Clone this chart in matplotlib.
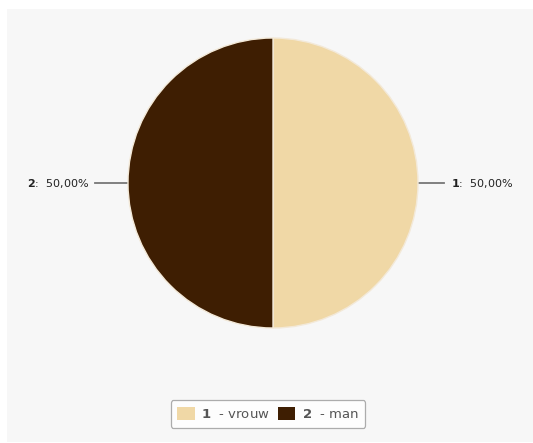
import matplotlib.pyplot as plt
from matplotlib.patches import Rectangle, Patch

plt.rcParams["mathtext.fontset"] = "dejavusans"

# data
codes = ["1", "2"]
names = ["vrouw", "man"]
shares = [50.0, 50.0]
colors = ["#f0d8a6", "#3e1e02"]

W, H = 533, 443
CX, CY, R = 273, 443 - 183, 145

fig = plt.figure(figsize=(W / 100, H / 100), dpi=100)
fig.patch.set_facecolor("white")
ax = fig.add_axes([0, 0, 1, 1])

# grey panel
ax.add_patch(Rectangle((7, 1), W - 7, H - 10, facecolor="#f7f7f7", edgecolor="none", zorder=0))

wedges, _ = ax.pie(shares, colors=colors, startangle=90, counterclock=False,
                   center=(CX, CY), radius=R, frame=True,
                   wedgeprops=dict(edgecolor="#f3e9d8", linewidth=1.0))
for w in wedges:
    w.set_zorder(3)
ax.set_xlim(0, W)
ax.set_ylim(0, H)
ax.set_aspect("equal")
ax.axis("off")

# labels with leader lines
ax.plot([CX + R, CX + R + 26], [CY, CY], color="#777777", lw=1.3, zorder=2)
ax.plot([CX - R - 33, CX - R], [CY, CY], color="#777777", lw=1.3, zorder=2)
lab_style = dict(fontsize=8, va="center", color="#222222", zorder=4)
ax.text(CX + R + 33, CY, f"$\\mathbf{{{codes[0]}}}$:  {shares[0]:.2f}%".replace(".", ","),
        ha="left", **lab_style)
ax.text(CX - R - 39, CY, f"$\\mathbf{{{codes[1]}}}$:  {shares[1]:.2f}%".replace(".", ","),
        ha="right", **lab_style)

handles = [Patch(facecolor=c, edgecolor="none") for c in colors]
labels = [f"$\\mathbf{{{c}}}$  - {n}" for c, n in zip(codes, names)]
leg = ax.legend(handles, labels, loc="center", bbox_to_anchor=(268 / W, 1 - 414 / H),
                ncol=2, frameon=True, fancybox=True, fontsize=9.5, handlelength=1.3,
                handleheight=1.1, handletextpad=0.5, columnspacing=0.6,
                borderpad=0.5, labelcolor="#555555")
leg.get_frame().set_edgecolor("#999999")
leg.get_frame().set_facecolor("white")
leg.get_frame().set_linewidth(0.9)

fig.savefig("out.png", dpi=100)
